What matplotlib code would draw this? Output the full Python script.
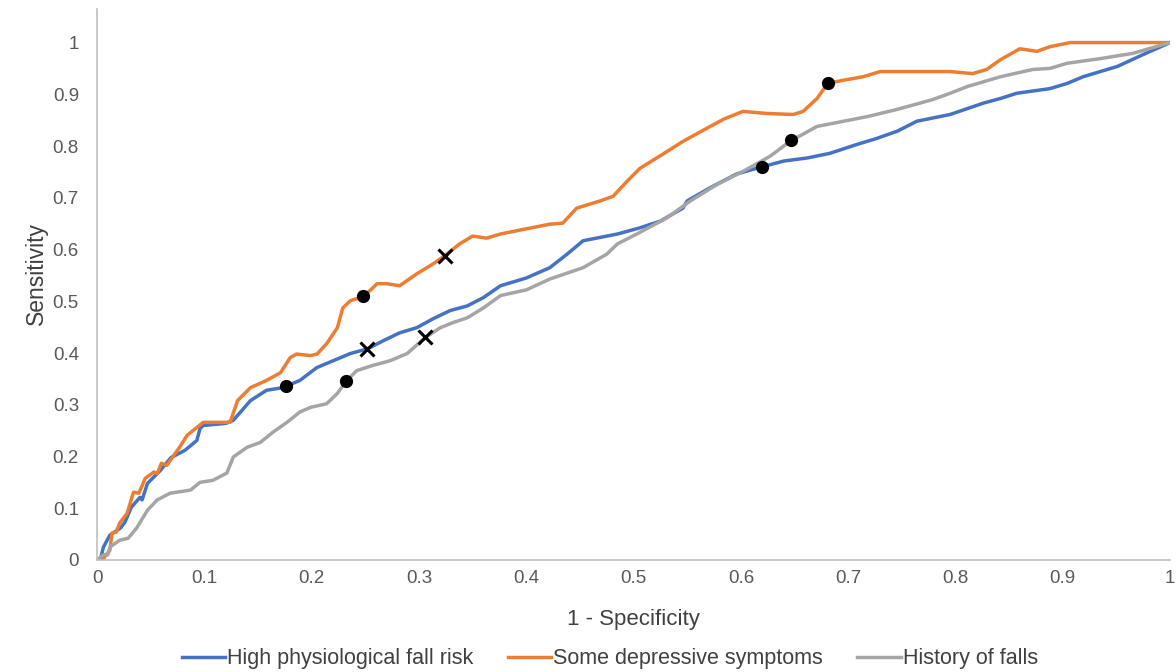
import matplotlib.pyplot as plt
import matplotlib.ticker as mticker

# ROC curves (1 - specificity, sensitivity)
fall_risk_x = [0, 0.003, 0.006, 0.012, 0.022, 0.026, 0.032, 0.040, 0.042, 0.047, 0.059, 0.069,
               0.082, 0.093, 0.096, 0.099, 0.120, 0.127, 0.143, 0.158, 0.173, 0.189, 0.205,
               0.220, 0.236, 0.252, 0.267, 0.282, 0.298, 0.313, 0.329, 0.345, 0.360, 0.376,
               0.400, 0.422, 0.438, 0.453, 0.485, 0.506, 0.525, 0.546, 0.550, 0.571, 0.596,
               0.618, 0.640, 0.662, 0.683, 0.708, 0.727, 0.746, 0.764, 0.795, 0.826, 0.842,
               0.857, 0.888, 0.904, 0.919, 0.951, 0.975, 1.0]
fall_risk_y = [0, 0.0, 0.025, 0.048, 0.062, 0.073, 0.102, 0.121, 0.116, 0.148, 0.173, 0.198,
               0.212, 0.231, 0.254, 0.260, 0.264, 0.270, 0.308, 0.328, 0.333, 0.347, 0.372,
               0.385, 0.399, 0.408, 0.424, 0.439, 0.449, 0.466, 0.482, 0.491, 0.507, 0.530,
               0.545, 0.565, 0.591, 0.617, 0.630, 0.642, 0.655, 0.680, 0.694, 0.719, 0.746,
               0.759, 0.771, 0.777, 0.786, 0.803, 0.815, 0.829, 0.848, 0.861, 0.883, 0.892,
               0.902, 0.911, 0.921, 0.934, 0.954, 0.977, 1.0]

depress_x = [0.005, 0.012, 0.014, 0.018, 0.021, 0.028, 0.034, 0.039, 0.045, 0.053, 0.056,
             0.060, 0.065, 0.077, 0.084, 0.099, 0.124, 0.131, 0.143, 0.158, 0.171, 0.180,
             0.186, 0.199, 0.205, 0.214, 0.224, 0.229, 0.236, 0.245, 0.248, 0.254, 0.261,
             0.270, 0.282, 0.298, 0.313, 0.324, 0.338, 0.350, 0.363, 0.376, 0.400, 0.422,
             0.434, 0.447, 0.469, 0.481, 0.494, 0.506, 0.527, 0.546, 0.568, 0.584, 0.602,
             0.624, 0.649, 0.658, 0.671, 0.681, 0.695, 0.714, 0.730, 0.795, 0.816, 0.829,
             0.842, 0.860, 0.876, 0.888, 0.907, 1.0]
depress_y = [0.0, 0.019, 0.052, 0.054, 0.071, 0.090, 0.131, 0.129, 0.158, 0.170, 0.167,
             0.187, 0.183, 0.218, 0.241, 0.266, 0.266, 0.308, 0.333, 0.347, 0.362, 0.391,
             0.398, 0.395, 0.398, 0.418, 0.449, 0.487, 0.501, 0.507, 0.511, 0.520, 0.534,
             0.534, 0.530, 0.553, 0.572, 0.588, 0.611, 0.626, 0.622, 0.630, 0.640, 0.649,
             0.651, 0.680, 0.694, 0.703, 0.732, 0.757, 0.784, 0.809, 0.834, 0.852, 0.867,
             0.863, 0.861, 0.867, 0.892, 0.921, 0.927, 0.934, 0.944, 0.944, 0.940, 0.948,
             0.967, 0.988, 0.983, 0.992, 1.0, 1.0]

history_x = [0, 0.006, 0.010, 0.012, 0.021, 0.029, 0.037, 0.047, 0.056, 0.068, 0.087, 0.096,
             0.108, 0.121, 0.127, 0.140, 0.152, 0.164, 0.177, 0.189, 0.199, 0.214, 0.224,
             0.232, 0.242, 0.257, 0.273, 0.289, 0.306, 0.320, 0.332, 0.345, 0.360, 0.376,
             0.400, 0.422, 0.453, 0.475, 0.485, 0.503, 0.531, 0.553, 0.578, 0.602, 0.627,
             0.647, 0.658, 0.671, 0.686, 0.718, 0.746, 0.779, 0.795, 0.811, 0.842, 0.872,
             0.888, 0.904, 0.935, 0.965, 1.0]
history_y = [0, 0.010, 0.010, 0.025, 0.038, 0.042, 0.062, 0.096, 0.116, 0.129, 0.135, 0.150,
             0.154, 0.168, 0.199, 0.218, 0.227, 0.247, 0.266, 0.286, 0.295, 0.302, 0.322,
             0.345, 0.366, 0.376, 0.385, 0.399, 0.430, 0.449, 0.459, 0.468, 0.487, 0.511,
             0.522, 0.543, 0.565, 0.591, 0.611, 0.630, 0.661, 0.694, 0.726, 0.751, 0.780,
             0.811, 0.823, 0.838, 0.844, 0.857, 0.871, 0.890, 0.902, 0.915, 0.934, 0.948,
             0.950, 0.960, 0.969, 0.979, 1.0]

# cut-off points marked on each curve
dot_x = [0.176, 0.620, 0.248, 0.681, 0.232, 0.647]
dot_y = [0.337, 0.759, 0.511, 0.921, 0.345, 0.811]
cross_x = [0.252, 0.324, 0.306]
cross_y = [0.408, 0.588, 0.430]

labels = ["High physiological fall risk", "Some depressive symptoms", "History of falls"]
colours = ["#4472C4", "#ED7D31", "#A5A5A5"]

plt.rcParams['font.family'] = ['Liberation Sans', 'DejaVu Sans']

fig = plt.figure(figsize=(11.76, 6.72), dpi=100)
ax = fig.add_axes([0.0825, 0.1667, 0.9125, 0.82])

series = [(fall_risk_x, fall_risk_y), (depress_x, depress_y), (history_x, history_y)]
for (xs, ys), label, colour in zip(series, labels, colours):
    ax.plot(xs, ys, color=colour, lw=2.5, label=label, solid_joinstyle='round')

ax.plot(dot_x, dot_y, 'o', color='black', ms=8.5, zorder=5)
ax.plot(cross_x, cross_y, 'x', color='black', ms=10, mew=2.2, zorder=5)

ax.set_xlim(0, 1)
ax.set_ylim(0, 1.065)
ax.xaxis.set_major_locator(mticker.MultipleLocator(0.1))
ax.set_yticks([i / 10 for i in range(11)])
fmt = mticker.FuncFormatter(lambda v, p: f"{v:.1f}".rstrip('0').rstrip('.') if v else "0")
ax.xaxis.set_major_formatter(fmt)
ax.yaxis.set_major_formatter(fmt)
ax.tick_params(length=0, labelsize=13.5, colors='#595959')
ax.tick_params(axis='y', pad=13)
ax.tick_params(axis='x', pad=7)

for side in ['top', 'right']:
    ax.spines[side].set_visible(False)
for side in ['left', 'bottom']:
    ax.spines[side].set_color('#BFBFBF')
    ax.spines[side].set_linewidth(1.2)

ax.set_xlabel("1 - Specificity", fontsize=16, color='#404040')
ax.xaxis.set_label_coords(0.5, -0.089)
ax.set_ylabel("Sensitivity", fontsize=16.5, color='#404040')
ax.yaxis.set_label_coords(-0.046, 0.52)

ax.legend(loc='center', bbox_to_anchor=(0.478, -0.179), ncol=3, frameon=False,
          fontsize=15.5, handlelength=2.0, handletextpad=0.1, columnspacing=1.6,
          labelcolor='#404040')

fig.savefig("out.png", dpi=100)
